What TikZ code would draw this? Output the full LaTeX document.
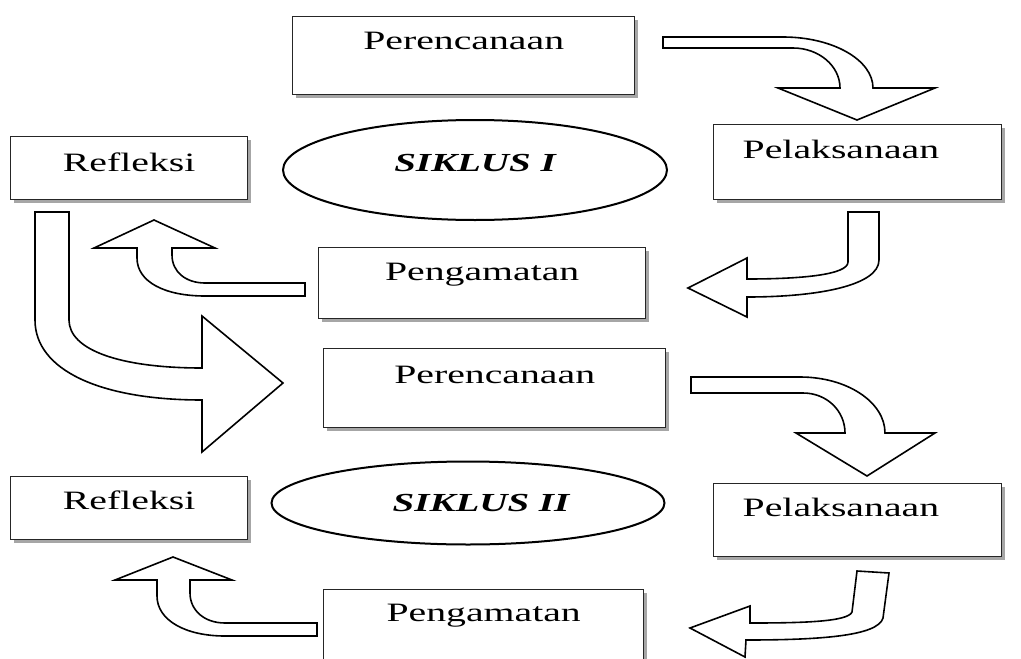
\documentclass[tikz,border=0pt]{standalone}
\usepackage{fontspec}
\setmainfont{Liberation Serif}[FakeStretch=1.5]
\usetikzlibrary{shapes.geometric,shadows}

\tikzset{
  kotak/.style={draw=black!85, line width=1.4pt, fill=white, inner sep=0pt,
    anchor=north west, align=center,
    drop shadow={shadow xshift=3pt, shadow yshift=-3pt, fill=black!50, opacity=0.7}},
  kotakkiri/.style={kotak, align=left, inner xsep=29pt},
  siklus/.style={ellipse, draw, line width=2pt, fill=white, inner sep=0pt,
    font=\fontsize{26}{30}\selectfont\bfseries\itshape},
  panah/.style={draw, line width=1.6pt, fill=white, line join=miter},
}

\begin{document}
\begin{tikzpicture}[x=1pt, y=-1pt, font=\fontsize{26.5}{30}\selectfont]
			\useasboundingbox (0,0) rectangle (1021,659);
			% siklus I
			\node[kotak, text width=342pt, text height=33pt, text depth=45pt] (per1) at (292,16) {Perencanaan};
			\node[kotak, text width=237pt, text height=35pt, text depth=28pt] (ref1) at (10,136) {Refleksi};
			\node[kotakkiri, text width=230pt, text height=34pt, text depth=41pt] (pel1) at (713,124) {Pelaksanaan};
			\node[kotak, text width=327pt, text height=33pt, text depth=38pt] (pen1) at (318,247) {Pengamatan};
			\node[siklus, minimum width=384pt, minimum height=100pt, text height=12pt, text depth=10pt] (sik1) at (475,170) {SIKLUS I};
			% siklus II
			\node[kotak, text width=342pt, text height=35pt, text depth=44pt] (per2) at (323,348) {Perencanaan};
			\node[kotak, text width=237pt, text height=33pt, text depth=30pt] (ref2) at (10,476) {Refleksi};
			\node[kotakkiri, text width=230pt, text height=33pt, text depth=40pt] (pel2) at (713,483) {Pelaksanaan};
			\node[kotak, text width=320pt, text height=32pt, text depth=38pt] (pen2) at (323,589) {Pengamatan};
			\node[siklus, minimum width=393pt, minimum height=83pt] (sik2) at (468,503) {\hspace{26pt}SIKLUS II};
			%
			\draw[panah] (663,37) -- (783,37) .. controls (833,37) and (873,60) .. (873,88) -- (935,88) -- (857,120)
				-- (778,88) -- (840,88) .. controls (840,66) and (819,48) .. (793,48) -- (663,48) -- cycle;
			\draw[panah] (848,212) -- (879,212) -- (879,260) .. controls (879,285) and (820,297) .. (747,297) -- (747,317)
				-- (688,288) -- (747,258) -- (747,279) .. controls (800,279) and (848,275) .. (848,262) -- cycle;
			\draw[panah] (305,283) -- (205,283) .. controls (186,283) and (172,272) .. (172,255) -- (172,248) -- (215,248)
				-- (154,220) -- (94,248) -- (137,248) -- (137,258) .. controls (137,282) and (165,296) .. (205,296) -- (305,296) -- cycle;
			\draw[panah] (35,212) -- (69,212) -- (69,320) .. controls (69,350) and (120,368) .. (202,368) -- (202,316)
				-- (283,383) -- (202,452) -- (202,400) .. controls (100,400) and (35,370) .. (35,320) -- cycle;
			\draw[panah] (691,377) -- (800,377) .. controls (847,377) and (885,402) .. (885,433) -- (935,433) -- (867,476)
				-- (796,433) -- (845,433) .. controls (845,411) and (827,393) .. (803,393) -- (691,393) -- cycle;
			\draw[panah] (857,571) -- (889,573) -- (883,618) .. controls (878,636) and (820,640) .. (746,640) -- (745,657)
				-- (690,628) -- (750,606) -- (750,623) .. controls (800,623) and (848,622) .. (852,612) -- cycle;
			\draw[panah] (317,623) -- (225,623) .. controls (204,623) and (190,610) .. (190,593) -- (190,580) -- (232,580)
				-- (173,557) -- (115,580) -- (157,580) -- (157,596) .. controls (157,620) and (185,636) .. (225,636) -- (317,636) -- cycle;
		\end{tikzpicture}
\end{document}
